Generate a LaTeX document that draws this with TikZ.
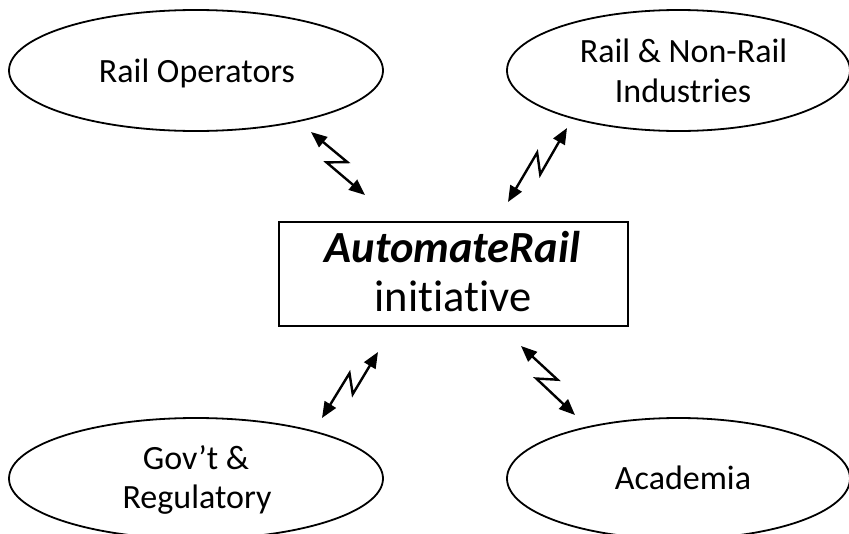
\documentclass[tikz,border=0pt]{standalone}
\usepackage{fontspec}
\setmainfont{Carlito}[Ligatures={NoCommon}]
\usetikzlibrary{shapes.geometric,arrows.meta,calc}
\newcommand\zigconn[2]{\draw[conn] (#1) -- ($(#1)!0.56!(#2)!8pt!90:(#2)$) -- ($(#1)!0.40!(#2)!8pt!-90:(#2)$) -- (#2);}
\begin{document}
\begin{tikzpicture}[x=1pt,y=-1pt,
  oval/.style={draw,ellipse,line width=1.8pt,inner sep=0pt},
  lbl/.style={anchor=base,inner sep=0pt,font=\fontsize{34}{40}\selectfont},
  boxlbl/.style={anchor=base,inner sep=0pt,font=\fontsize{44.5}{49}\selectfont},
  conn/.style={line width=2.4pt,line join=miter,>={Triangle[length=16pt,width=13pt]},<->}]
\useasboundingbox (0,0) rectangle (849,533);
% ellipses
\node[oval,minimum width=374pt,minimum height=121pt] (ro) at (196,70.5) {};
\node[oval,minimum width=343pt,minimum height=121pt] (rn) at (678.5,70.5) {};
\node[oval,minimum width=374pt,minimum height=121pt] (gr) at (196,478.5) {};
\node[oval,minimum width=343pt,minimum height=121pt] (ac) at (678.5,478.5) {};
% labels
\node[lbl] (roT) at (197,82) {Rail Operators};
\node[lbl] (rnT) at (683.5,62) {Rail \& Non-Rail};
\node[lbl] (rnB) at (683,102) {Industries};
\node[lbl] (grT) at (196,469) {Gov’t \&};
\node[lbl] (grB) at (197,508) {Regulatory};
\node[lbl] (acT) at (683,489) {Academia};
% central box
\node[draw,line width=2pt,minimum width=349pt,minimum height=104pt,inner sep=0pt] (ar) at (453.5,274) {};
\node[boxlbl,font=\fontsize{44.5}{49}\selectfont\bfseries\itshape] (arT) at (452.5,262) {AutomateRail};
\node[boxlbl] (arB) at (453,311) {initiative};
% connector ends
\coordinate (ro-end) at (311,132);
\coordinate (ar-ro) at (365,195);
\coordinate (rn-end) at (567,128);
\coordinate (ar-rn) at (508,202);
\coordinate (ar-gr) at (378,352);
\coordinate (gr-end) at (322,418);
\coordinate (ar-ac) at (521,346);
\coordinate (ac-end) at (575,415);
\zigconn{ro-end}{ar-ro}
\zigconn{rn-end}{ar-rn}
\zigconn{ar-gr}{gr-end}
\zigconn{ar-ac}{ac-end}
\end{tikzpicture}
\end{document}
